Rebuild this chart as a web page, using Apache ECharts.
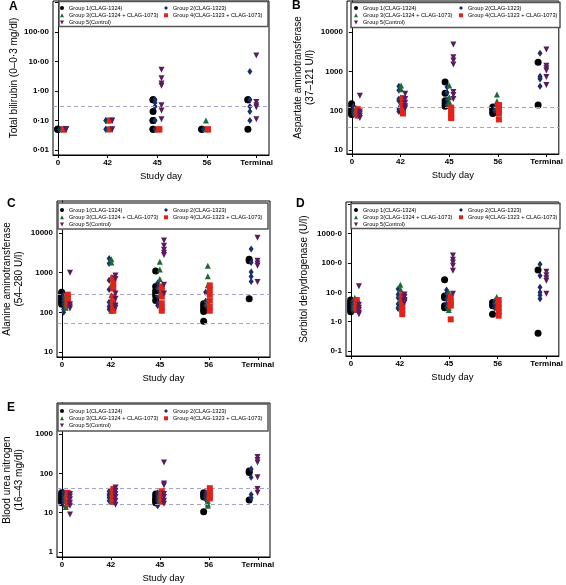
<!DOCTYPE html>
<html><head><meta charset="utf-8">
<script src="https://cdn.jsdelivr.net/npm/echarts@6/dist/echarts.min.js"></script>
<style>html,body{margin:0;padding:0;background:#fff}#c{width:566px;height:585px}</style>
</head><body><div id="c"></div><script>
const FONT = '"Liberation Sans", Arial, sans-serif';
const days = ['0', '42', '45', '56', 'Terminal'];
const groupNames = ['Group 1(CLAG-1324)', 'Group 2(CLAG-1323)', 'Group 3(CLAG-1324 + CLAG-1073)', 'Group 4(CLAG-1323 + CLAG-1073)', 'Group 5(Control)'];

// values per group, one list per study day (0, 42, 45, 56, Terminal)
// A: Total bilirubin
const biliG1 = [[0.05,0.05,0.05],[],[0.5,0.5,0.2,0.1,0.1,0.05,0.05],[0.05,0.05],[0.5,0.5,0.05]];
const biliG2 = [[0.05,0.05],[0.1,0.1,0.05,0.05],[0.5,0.4,0.3,0.1,0.05],[0.05,0.05],[4.6,0.5,0.3,0.2,0.1]];
const biliG3 = [[0.05,0.05],[0.1,0.05],[0.05,0.05],[0.1,0.05],[]];
const biliG4 = [[0.05,0.05],[0.1,0.05],[0.05,0.05],[0.05,0.05],[]];
const biliG5 = [[0.05,0.05],[0.1,0.05],[5.2,2.7,1.8,1.5,0.33,0.22,0.11],[],[16,0.42,0.33,0.28,0.11]];
const biliRef = [0.3];
const biliTicks = ['0\u00b701', '0\u00b710', '1\u00b700', '10\u00b700', '100\u00b700'];
// B: Aspartate aminotransferase
const astG1 = [[150,125,110,95,85,80],[],[540,280,180,150,130],[125,110,100,90,85],[1700,140]];
const astG2 = [[130,110,100,90,80],[420,330,200,180,110,95],[400,290,190,140],[120,110,100],[2900,750,680,640,420]];
const astG3 = [[120,105,95,85],[440,350,220,160,125],[440,220,170,150],[260,175,140,120],[]];
const astG4 = [[110,95,85,75],[210,180,150,120,100,85],[120,100,85,70,65],[140,125,110,95,85,60],[]];
const astG5 = [[240,95,85,75,65],[270,200,160,130,115],[4800,2300,1900,1500,300,250,200],[],[3600,1400,1200,1050,720,450]];
const astRef = [37, 121];
const astTicks = ['10', '100', '1000', '10000'];
// C: Alanine aminotransferase
const altG1 = [[320,280,250,220,200,180,160],[],[1100,450,350,300,260,200],[165,140,120,105,60],[2200,2000,220]];
const altG2 = [[280,240,200,160,120,100],[2300,1700,650,380,180,140,120],[550,400,250,170,150],[320,190,150],[4000,1800,1050,800,600]];
const altG3 = [[270,230,190,160,130],[2200,1800,750,500,270,200,110],[1900,1200,700,450,300],[1500,820,480,200,170],[]];
const altG4 = [[280,240,200,170,150],[750,550,400,250,180,130,110],[450,350,250,170,130,110],[480,380,280,200,140,110],[]];
const altG5 = [[1000,160,140,125],[850,700,300,220,150,130],[6500,4800,3800,3200,2800,500,300],[],[7600,2000,1700,1500,580]];
const altRef = [54, 280];
const altTicks = ['10', '100', '1000', '10000'];
// D: Sorbitol dehydrogenase
const sdhG1 = [[5.5,4.5,4,3.5,3,2.5,2.2],[],[27,7.5,6.5,3.5,3],[4.5,3.5,1.8],[58,0.4]];
const sdhG2 = [[5,4,3.5,3,2.5],[13,8.5,6.5,4,3,2.8],[12,9,6,4,3],[5,4,3],[90,37,15,10,8,6]];
const sdhG3 = [[6.5,5,4,3.5,3],[18,13,8,5,3.5],[10,7,4,3,2.5],[7,5,3],[]];
const sdhG4 = [[5.5,4.5,3.5,3,2.5],[8,6,4.5,3.5,2.5,1.8],[7,5,4,3.5,1.2],[5.5,4,3,2.2,1.6],[]];
const sdhG5 = [[16,3.8,3,2.5,2,1.8],[8.5,7,5.5,5,4.5],[180,130,105,80,55,9],[],[50,38,30,25,9]];
const sdhRef = [];
const sdhTicks = ['0\u00b71', '1\u00b70', '10\u00b70', '100\u00b70', '1000\u00b70'];
// E: Blood urea nitrogen
const bunG1 = [[32,28,25,22,20,18],[],[30,25,22,20,18],[32,28,25,10.5],[115,105,21]];
const bunG2 = [[33,28,24,20,17],[35,30,27,24,20],[32,28,24,20,15],[32,28,25,22],[130,80,29,24]];
const bunG3 = [[28,24,20,16,14],[38,30,25,22,19],[30,26,23,20],[24,20,17,15],[]];
const bunG4 = [[32,28,24,20,17],[40,34,28,24,19],[35,30,26,22,19],[42,35,30,26,23],[]];
const bunG5 = [[30,26,22,18,15,9],[44,36,30,25,20,16],[190,55,50,30,25,20,17],[],[260,220,190,80,40,32]];
const bunRef = [16, 43];
const bunTicks = ['1', '10', '100', '1000'];

// layout / style constants
const dayCenter = [0.08, 0.01, 0.0, -0.02, -0.09];
const groupOffset = [-0.085, -0.045, 0, 0.04, 0.085];
const groupColors = ['#000000', '#1b2d6b', '#1a6a35', '#e2231a', '#5a1c5c'];
const groupSymbols = ['circle', 'diamond', 'triangle', 'rect', 'path://M0,0L10,0L5,10Z'];
const groupSizes = [7, [5, 7], 6, 6, 6];

const panels = [
  {letter: 'A', groups: [biliG1, biliG2, biliG3, biliG4, biliG5], refs: biliRef, dec: 2, ticks: biliTicks,
   name: 'Total bilirubin (0\u20130\u00b73 mg/dl)', nameGap: 33,
   grid: {left: 53, top: 1, width: 216, height: 154}, yr: [-2.17, 3.05],
   title: [9, 1], leg: [60, 164, 4.5], box: [59, 1.5, 209, 25]},
  {letter: 'B', groups: [astG1, astG2, astG3, astG4, astG5], refs: astRef, dec: 0, ticks: astTicks,
   name: 'Aspartate aminotransferase\n(37\u2013121 U/l)', nameGap: 31,
   grid: {left: 347, top: 1, width: 216, height: 153}, yr: [0.9, 4.79],
   title: [292, 0], leg: [354, 459, 4.5], box: [351, 2.5, 209, 25]},
  {letter: 'C', groups: [altG1, altG2, altG3, altG4, altG5], refs: altRef, dec: 0, ticks: altTicks,
   name: 'Alanine aminotransferase\n(54\u2013280 U/l)', nameGap: 32,
   grid: {left: 54, top: 201, width: 216, height: 156}, yr: [0.874, 4.81],
   title: [7, 198], leg: [60, 164, 206.5], box: [58, 203, 210, 26]},
  {letter: 'D', groups: [sdhG1, sdhG2, sdhG3, sdhG4, sdhG5], refs: sdhRef, dec: 1, ticks: sdhTicks,
   name: 'Sorbitol dehydrogenase (U/l)', nameGap: 36,
   grid: {left: 346, top: 202, width: 217, height: 154}, yr: [-1.17, 4.08],
   title: [296, 198], leg: [354, 459, 206.5], box: [351, 203.5, 209, 25]},
  {letter: 'E', groups: [bunG1, bunG2, bunG3, bunG4, bunG5], refs: bunRef, dec: 0, ticks: bunTicks,
   name: 'Blood urea nitrogen\n(16\u201343 mg/dl)', nameGap: 32,
   grid: {left: 54, top: 403, width: 216, height: 154}, yr: [-0.127, 3.79],
   title: [7, 402], leg: [60, 164, 407.5], box: [58, 404, 210, 27]}
];

function fmt(v, dec) {
  return Number(v).toFixed(dec).replace('.', '\u00b7');
}

const option = {
  animation: false,
  backgroundColor: '#fff',
  textStyle: {fontFamily: FONT},
  title: [], grid: [], xAxis: [], yAxis: [], series: [], legend: [], graphic: []
};

panels.forEach((p, pi) => {
  option.title.push({text: p.letter, left: p.title[0], top: p.title[1], padding: 0,
    textStyle: {fontSize: 12, fontWeight: 'bold', color: '#000', fontFamily: FONT}});
  option.grid.push(Object.assign({show: true, borderColor: '#000', borderWidth: 1, backgroundColor: 'transparent'}, p.grid));
  option.xAxis.push({
    gridIndex: pi, type: 'value', min: -0.1, max: 4.25,
    name: 'Study day', nameLocation: 'middle', nameGap: 16, nameMoveOverlap: false,
    nameTextStyle: {fontSize: 9.5, color: '#000', fontFamily: FONT},
    axisLine: {show: true, lineStyle: {color: '#000', width: 1}},
    axisTick: {show: true, length: 3, lineStyle: {color: '#000'}, customValues: [0, 1, 2, 3, 4]},
    axisLabel: {show: true, customValues: [0, 1, 2, 3, 4], margin: 4, fontSize: 8, fontWeight: 'bold', color: '#000', fontFamily: FONT,
      formatter: v => days[Math.round(v)] || ''},
    splitLine: {show: false}
  });
  option.yAxis.push({
    gridIndex: pi, type: 'log', logBase: 10,
    min: Math.pow(10, p.yr[0]), max: Math.pow(10, p.yr[1]),
    name: p.name, nameLocation: 'middle', nameGap: p.nameGap, nameMoveOverlap: false,
    nameTextStyle: {fontSize: 10, color: '#000', fontFamily: FONT, lineHeight: 12},
    axisLine: {show: true, lineStyle: {color: '#000', width: 1}},
    axisTick: {show: true, length: 3, lineStyle: {color: '#000'}},
    axisLabel: {showMinLabel: false, showMaxLabel: false, margin: 4, fontSize: 8, fontWeight: 'bold', color: '#000', fontFamily: FONT,
      formatter: v => { const s = fmt(v, p.dec); return p.ticks.indexOf(s) >= 0 ? s : ''; }},
    minorTick: {show: false},
    splitLine: {show: false}
  });
  p.groups.forEach((g, gi) => {
    const pts = [];
    g.forEach((vals, di) => vals.forEach(v => pts.push([di + dayCenter[di] + groupOffset[gi], v])));
    const s = {
      type: 'scatter', name: groupNames[gi], xAxisIndex: pi, yAxisIndex: pi, data: pts,
      symbol: groupSymbols[gi], symbolSize: groupSizes[gi],
      itemStyle: {color: groupColors[gi], opacity: 1}, z: 2 + gi
    };
    if (gi === 0 && p.refs.length) {
      s.markLine = {silent: true, symbol: 'none', label: {show: false},
        lineStyle: {color: '#a3a6c2', type: [4, 3], width: 1},
        data: p.refs.map(r => ({yAxis: r}))};
    }
    option.series.push(s);
  });
  const legBase = {
    orient: 'vertical', top: p.leg[2], padding: 0, itemWidth: 4, itemHeight: 4, itemGap: 0.3,
    textStyle: {fontSize: 5.6, lineHeight: 7, color: '#000', fontFamily: FONT}, selectedMode: false
  };
  option.legend.push(Object.assign({}, legBase, {left: p.leg[0], data: [groupNames[0], groupNames[2], groupNames[4]]}));
  option.legend.push(Object.assign({}, legBase, {left: p.leg[1], data: [groupNames[1], groupNames[3]]}));
  option.graphic.push({type: 'rect', z: 1, silent: true,
    shape: {x: p.box[0], y: p.box[1], width: p.box[2], height: p.box[3]},
    style: {fill: '#fff', stroke: '#555', lineWidth: 1.5}});
});

const chart = echarts.init(document.getElementById('c'), null, {renderer: 'canvas'});
chart.setOption(option);
</script></body></html>
